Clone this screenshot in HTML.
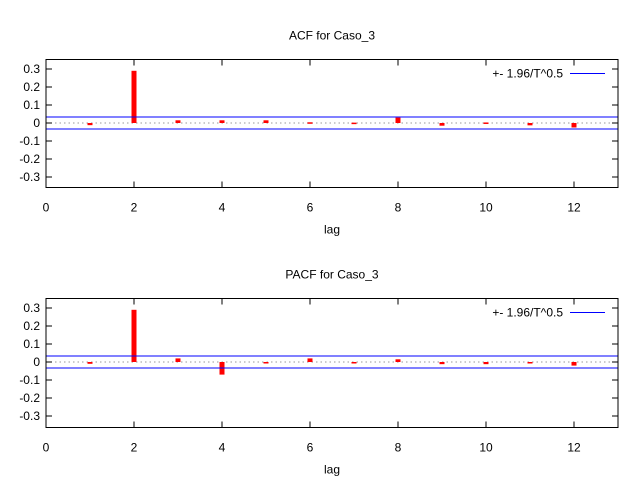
<!DOCTYPE html>
<html><head><meta charset="utf-8"><style>
body{margin:0;background:#fff}
svg text{font-family:"Liberation Sans","DejaVu Sans",sans-serif;font-size:12px;fill:#000}
</style></head><body>
<svg id="chart" width="640" height="480" xmlns="http://www.w3.org/2000/svg"></svg>
<script>
const lags = [1,2,3,4,5,6,7,8,9,10,11,12];
const acfValues = [-0.012,0.29,0.015,0.015,0.015,0.004,0.002,0.03,-0.015,0.003,-0.013,-0.025];
const pacfValues = [-0.01,0.29,0.02,-0.07,-0.003,0.02,-0.004,0.015,-0.012,-0.012,-0.008,-0.02];
const xTicks = [0,2,4,6,8,10,12];
const yTicks = [-0.3,-0.2,-0.1,0,0.1,0.2,0.3];
const bandValue = 0.033;
const NS='http://www.w3.org/2000/svg';
const svg=document.getElementById('chart');
function mk(tag,attrs,parent){const e=document.createElementNS(NS,tag);for(const k in attrs)e.setAttribute(k,attrs[k]);(parent||svg).appendChild(e);return e;}
function panel(name,title,vals,top,bottom,zeroY){
  const g=mk('g',{});
  
  
  const L=46,R=618;
  const xs=v=>L+v*(R-L)/13;
  const ys=v=>zeroY-v*180;
  const t=mk('text',{x:332,y:top-20,'text-anchor':'middle'},g);t.textContent=title;
  
  
  const z=mk('line',{x1:L,x2:R,y1:ys(0),y2:ys(0),stroke:'#999','stroke-dasharray':'1.5,3'},g);
  
  
  for(const v of yTicks){
    mk('line',{x1:L,x2:L+6,y1:ys(v),y2:ys(v),stroke:'#000'},g);
    mk('line',{x1:R,x2:R-6,y1:ys(v),y2:ys(v),stroke:'#000'},g);
    const tx=mk('text',{x:L-6,y:ys(v)+4,'text-anchor':'end'},g);tx.textContent=v===0?'0':v.toFixed(1);
    
    
  }
  for(const v of xTicks){
    mk('line',{x1:xs(v),x2:xs(v),y1:bottom,y2:bottom-6,stroke:'#000'},g);
    mk('line',{x1:xs(v),x2:xs(v),y1:top,y2:top+6,stroke:'#000'},g);
    const tx=mk('text',{x:xs(v),y:bottom+24,'text-anchor':'middle'},g);tx.textContent=v;
    
    
  }
  const xl=mk('text',{x:332,y:bottom+46,'text-anchor':'middle'},g);xl.textContent='lag';
  
  
  vals.forEach((v,i)=>{
    const y0=ys(0),y1=ys(v);
    const b=mk('rect',{x:xs(lags[i])-2.5,y:Math.min(y0,y1),width:5,height:Math.max(Math.abs(y1-y0),1.5),fill:'#ff0000'},g);
    
    
  });
  [bandValue,-bandValue].forEach(v=>{
    const l=mk('line',{x1:L,x2:R,y1:ys(v),y2:ys(v),stroke:'#0000ff','stroke-width':1},g);
    
    
  });
  const lt=mk('text',{x:563,y:top+18,'text-anchor':'end'},g);lt.textContent='+- 1.96/T^0.5';
  
  
  const ll=mk('line',{x1:570,x2:605,y1:top+14,y2:top+14,stroke:'#0000ff','stroke-width':1},g);
  
  
  const f=mk('rect',{x:L,y:top,width:R-L,height:bottom-top,fill:'none',stroke:'#000'},g);
  
  
}
panel('acf','ACF for Caso_3',acfValues,59.5,187.5,123);
panel('pacf','PACF for Caso_3',pacfValues,298.5,427.5,362);
</script>
</body></html>
